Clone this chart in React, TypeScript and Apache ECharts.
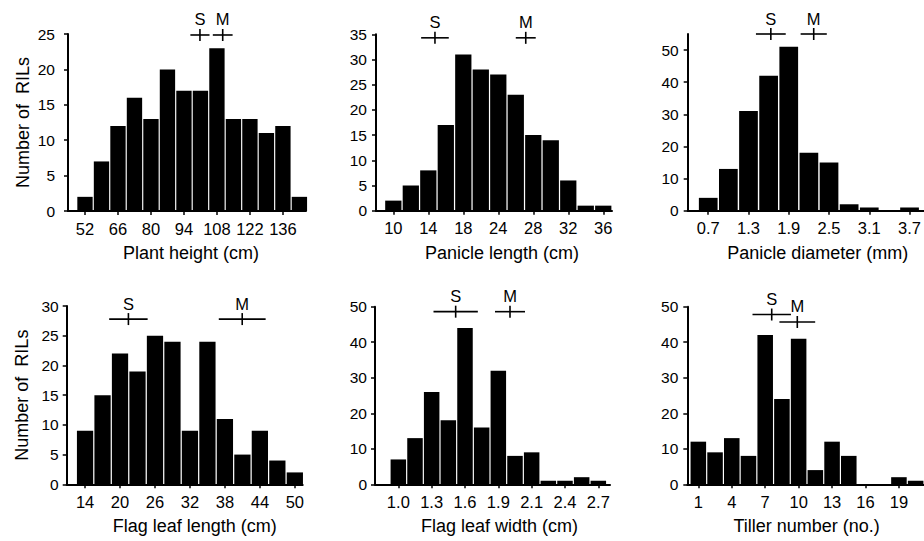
import React, { useEffect, useRef } from 'react';
import * as echarts from 'echarts';

// ---- data (counts of RILs per bin) ----
const plantHeightCounts = [2, 7, 12, 16, 13, 20, 17, 17, 23, 13, 13, 11, 12, 2];
const panicleLengthCounts = [2, 5, 8, 17, 31, 28, 27, 23, 15, 14, 6, 1, 1];
const panicleDiameterCounts = [4, 13, 31, 42, 51, 18, 15, 2, 1, 0, 1];
const flagLeafLengthCounts = [9, 15, 22, 19, 25, 24, 9, 24, 11, 5, 9, 4, 2];
const flagLeafWidthCounts = [7, 13, 26, 18, 44, 16, 32, 8, 9, 1, 1, 2, 1];
const tillerCounts = [12, 9, 13, 8, 42, 24, 41, 4, 12, 8, 0, 0, 2, 1];

// ---- tick labels (placed at bin index) ----
const tickBins7 = [0, 2, 4, 6, 8, 10, 12];
const tickBins6 = [0, 2, 4, 6, 8, 10];
const plantHeightTicks = ['52', '66', '80', '94', '108', '122', '136'];
const panicleLengthTicks = ['10', '14', '18', '24', '28', '32', '36'];
const panicleDiameterTicks = ['0.7', '1.3', '1.9', '2.5', '3.1', '3.7'];
const flagLeafLengthTicks = ['14', '20', '26', '32', '38', '44', '50'];
const flagLeafWidthTicks = ['1.0', '1.3', '1.6', '1.9', '2.1', '2.4', '2.7'];
const tillerTicks = ['1', '4', '7', '10', '13', '16', '19'];

const yTicks25 = [0, 5, 10, 15, 20, 25];
const yTicks35 = [0, 5, 10, 15, 20, 25, 30, 35];
const yTicks30 = [0, 5, 10, 15, 20, 25, 30];
const yTicks50 = [0, 10, 20, 30, 40, 50];

// ---- parent markers: [mean (bin units), half range (bin units), level (count)] ----
const markerNames = ['S', 'M'];
const plantHeightMarkers = [[6.97, 0.58, 24.86], [8.35, 0.6, 24.86]];
const panicleLengthMarkers = [[2.38, 0.79, 34.3], [7.57, 0.57, 34.3]];
const panicleDiameterMarkers = [[3.11, 0.74, 55], [5.24, 0.65, 55]];
const flagLeafLengthMarkers = [[2.48, 1.1, 27.8], [8.99, 1.34, 27.8]];
const flagLeafWidthMarkers = [[3.44, 1.33, 48.6], [6.7, 0.9, 48.6]];
const tillerMarkers = [[4.39, 1.15, 47.8], [5.92, 1.07, 45.7]];

const FONT = '"Liberation Sans", Arial, Helvetica, sans-serif';

const panels = [
  { counts: plantHeightCounts, tickBins: tickBins7, tickLabels: plantHeightTicks, yTicks: yTicks25, yMax: 25,
    title: 'Plant height (cm)', markers: plantHeightMarkers, yName: true,
    grid: { left: 68, top: 34, width: 238, height: 177 }, xMin: -1.03, xMax: 13.4, yMargin: 13, shift: 4 },
  { counts: panicleLengthCounts, tickBins: tickBins7, tickLabels: panicleLengthTicks, yTicks: yTicks35, yMax: 35,
    title: 'Panicle length (cm)', markers: panicleLengthMarkers, yName: false,
    grid: { left: 376, top: 34.3, width: 236, height: 176.4 }, xMin: -0.99, xMax: 12.5, yMargin: 9, shift: 8 },
  { counts: panicleDiameterCounts, tickBins: tickBins6, tickLabels: panicleDiameterTicks, yTicks: yTicks50, yMax: 55,
    title: 'Panicle diameter (mm)', markers: panicleDiameterMarkers, yName: false,
    grid: { left: 687.7, top: 34, width: 236.4, height: 176.7 }, xMin: -1.02, xMax: 10.7, yMargin: 9, shift: 12 },
  { counts: flagLeafLengthCounts, tickBins: tickBins7, tickLabels: flagLeafLengthTicks, yTicks: yTicks30, yMax: 30,
    title: 'Flag leaf length (cm)', markers: flagLeafLengthMarkers, yName: true,
    grid: { left: 66.7, top: 306, width: 236, height: 178.3 }, xMin: -1.05, xMax: 12.45, yMargin: 8, shift: 10 },
  { counts: flagLeafWidthCounts, tickBins: tickBins7, tickLabels: flagLeafWidthTicks, yTicks: yTicks50, yMax: 50,
    title: 'Flag leaf width (cm)', markers: flagLeafWidthMarkers, yName: false,
    grid: { left: 375, top: 306.7, width: 235, height: 177.6 }, xMin: -1.4, xMax: 12.7, yMargin: 8, shift: 7 },
  { counts: tillerCounts, tickBins: tickBins7, tickLabels: tillerTicks, yTicks: yTicks50, yMax: 50,
    title: 'Tiller number (no.)', markers: tillerMarkers, yName: false,
    grid: { left: 687.3, top: 306.7, width: 236.7, height: 177.6 }, xMin: -0.66, xMax: 13.5, yMargin: 9, shift: 1 },
];

function buildOption() {
  const grid: any[] = [];
  const xAxis: any[] = [];
  const yAxis: any[] = [];
  const series: any[] = [];
  panels.forEach((p, k) => {
    grid.push({ ...p.grid, containLabel: false });
    xAxis.push({
      gridIndex: k, type: 'value', min: p.xMin, max: p.xMax,
      axisLine: { show: true, onZero: false, lineStyle: { color: '#000', width: 2 } },
      axisTick: { show: true, customValues: p.tickBins, length: 4, lineStyle: { color: '#000', width: 1.5 } },
      axisLabel: {
        customValues: p.tickBins, margin: 9, fontSize: 16.5, color: '#000', fontFamily: FONT,
        formatter: (v: number) => {
          const i = p.tickBins.indexOf(Math.round(v));
          return i >= 0 ? p.tickLabels[i] : '';
        },
      },
      splitLine: { show: false },
      name: p.title, nameLocation: 'middle', nameGap: 33,
      nameTextStyle: { fontSize: 18, color: '#000', fontFamily: FONT, padding: [0, 0, 0, 2 * p.shift] },
    });
    yAxis.push({
      gridIndex: k, type: 'value', min: 0, max: p.yMax,
      axisLine: { show: true, onZero: false, lineStyle: { color: '#000', width: 2 } },
      axisTick: { show: true, customValues: p.yTicks, length: 4, lineStyle: { color: '#000', width: 1.5 } },
      axisLabel: { customValues: p.yTicks, margin: p.yMargin, fontSize: 15.5, color: '#000', fontFamily: FONT },
      splitLine: { show: false },
      name: p.yName ? 'Number of  RILs' : '', nameLocation: 'middle', nameGap: 36,
      nameTextStyle: { fontSize: 18, color: '#000', fontFamily: FONT },
    });
    series.push({
      type: 'bar', xAxisIndex: k, yAxisIndex: k,
      data: p.counts.map((v, i) => [i, v]),
      barWidth: '93%',
      itemStyle: { color: '#000' },
      silent: true,
    });
    series.push({
      type: 'custom', xAxisIndex: k, yAxisIndex: k, clip: false, silent: true,
      data: p.markers, encode: { x: 0, y: 2 },
      renderItem: (params: any, api: any) => {
        const m = api.value(0);
        const hw = api.value(1);
        const lvl = api.value(2);
        const c = api.coord([m, lvl]);
        const l = api.coord([m - hw, lvl]);
        const r = api.coord([m + hw, lvl]);
        const st = { stroke: '#000', lineWidth: 1.6 };
        return {
          type: 'group',
          children: [
            { type: 'line', shape: { x1: l[0], y1: c[1], x2: r[0], y2: c[1] }, style: st },
            { type: 'line', shape: { x1: c[0], y1: c[1] - 6, x2: c[0], y2: c[1] + 6 }, style: st },
            {
              type: 'text', x: c[0], y: c[1] - 7,
              style: {
                text: markerNames[params.dataIndex], fontSize: 16.5, fontFamily: FONT, fill: '#000',
                align: 'center', verticalAlign: 'bottom',
              },
            },
          ],
        };
      },
    });
  });
  return { animation: false, backgroundColor: '#fff', grid, xAxis, yAxis, series };
}

export default function App() {
  const ref = useRef<HTMLDivElement>(null);
  useEffect(() => {
    if (!ref.current) return;
    const chart = echarts.init(ref.current, null, { renderer: 'svg' });
    chart.setOption(buildOption() as any);
    return () => chart.dispose();
  }, []);
  return (
    <div
      ref={ref}
      style={{ position: 'absolute', left: 0, top: 0, width: 924, height: 541, background: '#fff' }}
    />
  );
}
